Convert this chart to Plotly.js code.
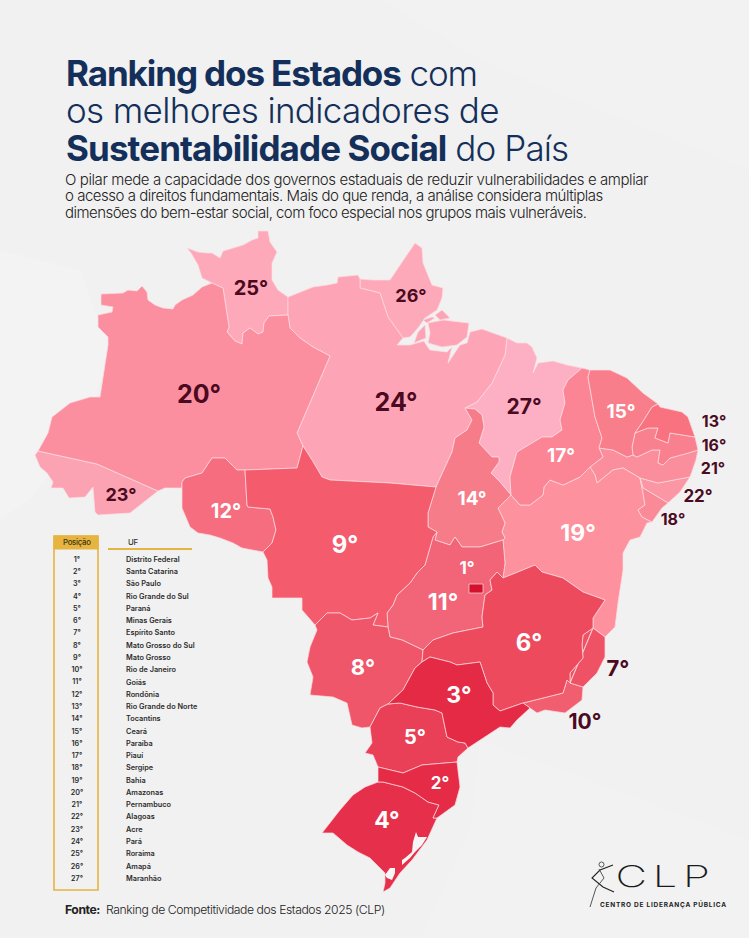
<!DOCTYPE html>
<html lang="pt-BR"><head><meta charset="utf-8">
<script src="https://cdn.plot.ly/plotly-3.0.1.min.js"></script>
<style>html,body{margin:0;padding:0;background:#f1f1f1}#c{width:749px;height:938px}
.annotation-text{letter-spacing:-0.035em}
.annotation[data-index="0"] .annotation-text{letter-spacing:-1.1px}
.annotation[data-index="1"] .annotation-text{letter-spacing:-0.65px}
.annotation[data-index="2"] .annotation-text{letter-spacing:-0.9px}
.annotation[data-index="3"] .annotation-text{letter-spacing:-0.41px}
.annotation[data-index="4"] .annotation-text{letter-spacing:-0.475px}
.annotation[data-index="5"] .annotation-text{letter-spacing:-0.54px}
.annotation[data-index="9"] .annotation-text{letter-spacing:4px;transform:scaleX(1.45);transform-origin:10px 876px}
.annotation[data-index="10"] .annotation-text{letter-spacing:0.75px}</style></head><body><div id="c"></div>
<script>
// ---- DATA ----
const stateCodes=["DF","SC","SP","RS","PR","MG","ES","MS","MT","RJ","GO","RO","RN","TO","CE","PB","PI","SE","BA","AM","PE","AL","AC","PA","RR","AP","MA"];
const ranks=[1,2,3,4,5,6,7,8,9,10,11,12,13,14,15,16,17,18,19,20,21,22,23,24,25,26,27];
const ufNames=["Distrito Federal","Santa Catarina","São Paulo","Rio Grande do Sul","Paraná","Minas Gerais","Espírito Santo","Mato Grosso do Sul","Mato Grosso","Rio de Janeiro","Goiás","Rondônia","Rio Grande do Norte","Tocantins","Ceará","Paraíba","Piauí","Sergipe","Bahia","Amazonas","Pernambuco","Alagoas","Acre","Pará","Roraima","Amapá","Maranhão"];
const fillColors=["#d3112f","#e52b45","#e42a45","#e6304b","#e94058","#ed4a5e","#ef5265","#f0566a","#f45b6c","#f05e70","#f26477","#f56d7e","#f8727f","#f67c8a","#f97e8c","#f9808e","#fb8595","#fb8a98","#fd919e","#fb8f9f","#fb8e9c","#fb96a4","#fca3b3","#fda5b6","#fda9ba","#fda9ba","#fdb0c3"];
const labelX=[467,440,459,387,415,529,618,363,345,585,443,226,714,472,621,714,561,673,578,199,713,698,121,396,251,411,524];
const labelY=[570,785,697,822,739,645,670,669,547,724,604,513,423,500,413,447,457,521,535,397,470,498,496,405,290,297,409];
const labelDark=[0,0,0,0,0,0,1,0,0,1,0,0,1,0,0,1,0,1,0,1,1,1,1,1,1,1,1];
const labelSize=[17,17,23,23,20,24,22,22,24,21,23,20,16,19,19,16,19,16,23,25,16,17,18,25,20,18,21];

// ---- GEOGRAPHY: shared state borders, in picture units ----
const N_RR=[[212,283],[202,278],[198,265],[191,253],[187,248],[198,252],[207,253],[212,253],[220,258],[223,251],[233,248],[243,245],[252,240],[258,238],[258,231],[268,231],[270,242],[277,252],[272,263],[272,280],[278,290],[288,297]];
const RR_PA=[[288,297],[288,315]];
const RR_AM=[[288,315],[269,316],[264,323],[263,332],[258,334],[250,328],[243,333],[242,344],[235,341],[227,332],[229,327],[225,303],[223,288],[212,283]];
const AM_N=[[212,283],[202,287],[193,295],[182,300],[175,305],[173,309],[163,308],[155,305],[148,300],[147,292],[142,286],[137,291],[128,290],[123,293],[101,294],[101,305],[113,307],[112,312],[98,315],[98,327],[108,337],[108,345],[100,397],[90,397],[70,403],[57,413],[52,417],[48,433],[38,451]];
const AM_AC=[[38,451],[97,464],[158,491]];
const AM_S=[[158,491],[165,488],[178,488],[182,488]];
const AM_RO=[[182,488],[182,482],[185,478],[202,473],[212,458],[225,458],[237,470],[245,470]];
const AM_MT=[[245,470],[297,468],[303,446]];
const AM_PA=[[303,446],[297,433],[330,356],[313,347],[300,338],[290,328],[288,315]];
const AC_OUT=[[38,451],[35,455],[40,467],[47,473],[53,482],[51,488],[63,488],[69,498],[85,497],[93,487],[95,512],[98,515],[130,513],[137,507],[158,491]];
const RO_MT=[[245,470],[247,505],[248,507],[270,509],[273,517],[276,530],[272,543],[263,552]];
const RO_OUT=[[182,488],[182,508],[190,527],[198,533],[210,535],[220,538],[233,543],[242,548],[253,550],[263,552]];
const MT_PA=[[303,446],[312,460],[322,477],[330,480],[390,483],[436,487]];
const MT_TO=[[436,487],[428,513],[428,527],[437,532]];
const MT_GO=[[437,532],[433,537],[425,565],[417,573],[410,583],[397,595],[393,605],[387,613],[388,627]];
const MT_MS=[[388,627],[373,625],[378,613],[370,618],[352,620],[340,613],[327,613],[315,625]];
const MT_OUT=[[315,625],[302,610],[302,598],[272,598],[272,587],[268,578],[267,560],[263,552]];
const PA_N=[[288,297],[300,292],[313,287],[327,285],[337,283],[338,277],[358,275],[360,279]];
const PA_AP=[[360,279],[360,288],[380,293],[388,317],[403,338]];
const PA_COAST=[[403,338],[397,345],[410,345],[424,341],[427,346],[430,350],[447,352],[452,347],[448,363],[460,345],[467,343],[470,332],[482,329],[493,333],[507,338]];
const PA_MA=[[507,338],[505,355],[492,383],[477,402],[465,408]];
const PA_TO=[[465,408],[472,420],[467,430],[455,438],[452,452],[436,487]];
const AP_OUT=[[360,279],[373,280],[390,280],[397,270],[415,243],[422,248],[423,263],[432,285],[443,288],[442,298],[437,310],[425,318],[418,328],[410,337],[403,338]];
const MA_COAST=[[507,338],[517,343],[527,343],[532,347],[537,358],[533,373],[538,363],[545,362],[553,361],[567,365],[582,368]];
const MA_PI=[[582,368],[568,380],[563,390],[565,403],[560,420],[562,430],[552,437],[542,437],[517,452],[510,477],[511,495]];
const TO_MA=[[465,408],[475,409],[482,415],[484,427],[479,443],[492,457],[499,457],[499,462],[491,473],[500,482],[511,495]];
const TO_BA=[[511,495],[498,508],[505,523],[502,532],[505,538],[503,540]];
const TO_GO=[[503,540],[480,547],[462,547],[455,537],[450,545],[435,540],[437,532]];
const PI_N=[[582,368],[590,370]];
const PI_CE=[[590,370],[588,377],[595,417],[602,438],[599,448]];
const PI_PE=[[599,448],[603,457],[590,467]];
const PI_BA=[[590,467],[580,477],[563,485],[550,480],[544,487],[543,495],[530,505],[520,505],[511,495]];
const CE_COAST=[[590,370],[610,370],[627,378],[643,393],[658,404]];
const CE_RN=[[658,404],[652,407],[642,423],[635,433]];
const CE_PB=[[635,433],[632,447],[633,455]];
const CE_PE=[[633,455],[627,457],[613,450],[599,448]];
const RN_COAST=[[658,404],[660,407],[682,412],[688,417],[695,437]];
const RN_PB=[[695,437],[670,433],[668,443],[655,438],[658,428],[648,428],[635,433]];
const PB_COAST=[[695,437],[698,450]];
const PB_PE=[[698,450],[685,454],[670,458],[663,465],[658,463],[660,450],[652,450],[637,457],[633,455]];
const PE_COAST=[[698,450],[696,460],[690,477]];
const PE_AL=[[690,477],[673,480],[658,483],[640,478]];
const PE_BA=[[640,478],[632,473],[623,468],[613,470],[597,483],[595,475],[590,467]];
const AL_COAST=[[690,477],[680,492],[668,503]];
const AL_SE=[[668,503],[655,495],[643,488],[640,478]];
const SE_COAST=[[668,503],[662,508],[652,522]];
const SE_BA=[[652,522],[642,517],[638,510],[645,505],[643,493],[640,478]];
const BA_COAST=[[652,522],[647,523],[640,537],[630,540],[623,553],[623,570],[618,603],[615,627],[605,637]];
const BA_ES=[[605,637],[593,628]];
const BA_MG=[[593,628],[593,618],[605,600],[583,592],[563,578],[542,572],[535,565],[518,572],[503,578]];
const BA_GO=[[503,578],[505,563],[503,540]];
const MG_GO=[[503,578],[497,572],[490,580],[492,590],[485,595],[482,617],[483,627],[453,633],[433,640],[423,650]];
const MG_MS=[[423,650],[422,662]];
const MG_SP=[[422,662],[430,657],[450,662],[457,665],[480,662],[487,683],[493,693],[493,705],[500,711],[523,703]];
const MG_RJ=[[523,703],[563,693],[567,680],[570,683]];
const MG_ES=[[570,683],[570,673],[583,658],[582,645],[583,635],[593,628]];
const ES_COAST=[[605,637],[605,657],[597,673],[583,687]];
const ES_RJ=[[583,687],[570,683]];
const RJ_COAST=[[583,687],[582,700],[565,713],[545,710],[537,713],[530,708]];
const RJ_SP=[[530,708],[523,703]];
const SP_MS=[[388,704],[403,690],[415,668],[422,662]];
const SP_PR=[[388,704],[400,703],[417,707],[435,710],[442,713],[447,737],[458,742],[465,743],[468,748]];
const SP_COAST=[[468,748],[483,738],[500,727],[510,728],[517,720],[530,708]];
const GO_MS=[[388,627],[390,637],[402,640],[423,650]];
const MS_PR=[[388,704],[380,708],[370,727]];
const MS_OUT=[[315,625],[317,630],[310,647],[307,662],[313,677],[310,695],[333,697],[347,703],[352,725],[362,728],[370,727]];
const PR_COAST=[[468,748],[458,757],[457,762]];
const PR_SC=[[378,767],[403,773],[422,765],[457,762]];
const PR_OUT=[[370,727],[372,743],[365,753],[373,755],[378,767]];
const SC_COAST=[[457,762],[460,787],[455,805],[437,818]];
const SC_RS=[[378,782],[383,782],[403,787],[415,793],[428,802],[439,805],[433,818],[437,818]];
const RS_COAST=[[437,818],[427,840],[412,860],[400,873],[390,888],[383,892],[385,883],[385,873],[370,858],[358,852],[347,845],[333,833],[322,833],[340,810],[353,795],[365,787],[378,782]];
const DF_BOX=[[469,584],[483,584],[483,593],[469,593]];
const MARAJO=[[428,323],[443,320],[469,323],[467,337],[457,345],[442,347],[428,343],[430,333]];
const ISLE_A=[[423,320],[432,317],[435,318],[427,323]];
const ISLE_B=[[435,315],[442,310],[450,318],[440,320]];
const ISLE_C=[[418,332],[425,325],[426,338],[414,343]];
const LAGOA_PATOS=[[416,832],[418,837],[427,837],[422,845],[415,852],[410,858],[402,865],[402,860],[405,858],[412,852],[413,842]];
const LAGOA_MIRIM=[[390,868],[395,868],[395,873],[392,880],[387,878],[385,875]];

const r=a=>a.slice().reverse();
const rings={
 DF:[DF_BOX],
 RR:[[...N_RR,...RR_PA,...RR_AM]],
 AM:[[...AM_N,...AM_AC,...AM_S,...AM_RO,...AM_MT,...AM_PA,...RR_AM]],
 AC:[[...AM_AC,...r(AC_OUT)]],
 RO:[[...AM_RO,...RO_MT,...r(RO_OUT)]],
 MT:[[...MT_PA,...MT_TO,...MT_GO,...MT_MS,...MT_OUT,...r(RO_MT),...AM_MT]],
 PA:[[...PA_N,...PA_AP,...PA_COAST,...PA_MA,...PA_TO,...r(MT_PA),...AM_PA,...r(RR_PA)],MARAJO,ISLE_A,ISLE_B,ISLE_C],
 AP:[[...AP_OUT,...r(PA_AP)]],
 MA:[[...MA_COAST,...MA_PI,...r(TO_MA),...r(PA_MA)]],
 TO:[[...TO_MA,...TO_BA,...TO_GO,...r(MT_TO),...r(PA_TO)]],
 PI:[[...PI_N,...PI_CE,...PI_PE,...PI_BA,...r(MA_PI)]],
 CE:[[...CE_COAST,...CE_RN,...CE_PB,...CE_PE,...r(PI_CE)]],
 RN:[[...RN_COAST,...RN_PB,...r(CE_RN)]],
 PB:[[...PB_COAST,...PB_PE,...r(CE_PB),...r(RN_PB)]],
 PE:[[...PE_COAST,...PE_AL,...PE_BA,...r(PI_PE),...r(CE_PE),...r(PB_PE)]],
 AL:[[...AL_COAST,...AL_SE,...r(PE_AL)]],
 SE:[[...SE_COAST,...SE_BA,...r(AL_SE)]],
 BA:[[...BA_COAST,...BA_ES,...BA_MG,...BA_GO,...r(TO_BA),...r(PI_BA),...r(PE_BA),...r(SE_BA)]],
 MG:[[...MG_GO,...MG_MS,...MG_SP,...MG_RJ,...MG_ES,...BA_MG]],
 ES:[[...r(BA_ES),...ES_COAST,...ES_RJ,...r(MG_ES)]],
 RJ:[[...r(ES_RJ),...RJ_COAST,...RJ_SP,...MG_RJ]],
 SP:[[...SP_MS,...MG_SP,...r(RJ_SP),...r(SP_COAST),...r(SP_PR)]],
 GO:[[...r(TO_GO),...r(BA_GO),...MG_GO,...r(GO_MS),...r(MT_GO)]],
 MS:[[...GO_MS,...MG_MS,...r(SP_MS),...MS_PR,...r(MS_OUT),...r(MT_MS)]],
 PR:[[...SP_PR,...PR_COAST,...r(PR_SC),...r(PR_OUT),...r(MS_PR)]],
 SC:[[...PR_SC,...SC_COAST,...r(SC_RS)]],
 RS:[[...SC_RS,...RS_COAST]]
};
function ringTrace(list,color,line,name){
  const x=[],y=[];
  list.forEach((ring,i)=>{ if(i){x.push(null);y.push(null);} ring.forEach(p=>{x.push(p[0]);y.push(p[1]);}); x.push(ring[0][0]); y.push(ring[0][1]); });
  return {type:'scatter',mode:'lines',x,y,fill:'toself',fillcolor:color,line:{color:line,width:line==='rgba(0,0,0,0)'?0:0.7},hoverinfo:'skip',showlegend:false,name};
}
const traces=[];
for(let i=stateCodes.length-1;i>=0;i--) traces.push(ringTrace(rings[stateCodes[i]],fillColors[i],'#fcdde1',stateCodes[i]));
const PAPER='#f1f1f1';
traces.push(ringTrace([LAGOA_PATOS,LAGOA_MIRIM],'#f6f6f6','rgba(0,0,0,0)','Lagoas'));

const deg=n=>n+'°';
const DARK='#4a0a1f';
traces.push({type:'scatter',mode:'text',x:labelX,y:labelY,text:ranks.map(n=>'<b>'+deg(n)+'</b>'),textposition:'middle center',
  textfont:{family:'Inter',size:labelSize,color:labelDark.map(d=>d?DARK:'#ffffff')},hoverinfo:'skip',showlegend:false});

const rowY=ranks.map((n,i)=>560+i*12.27);
traces.push({type:'scatter',mode:'text',x:ranks.map(()=>77),y:rowY,text:ranks.map(deg),textposition:'middle center',
  textfont:{family:'Inter',size:7.2,color:'#2c2c2c',weight:600},hoverinfo:'skip',showlegend:false});
traces.push({type:'scatter',mode:'text',x:ranks.map(()=>126),y:rowY,text:ufNames,textposition:'middle right',
  textfont:{family:'Inter',size:7.3,color:'#2c2c2c',weight:600},hoverinfo:'skip',showlegend:false});

const NAVY='#14305a';
const ann=(x,y,text,size,color,extra)=>Object.assign({xref:'x',yref:'y',x,y,text,showarrow:false,xanchor:'left',yanchor:'middle',align:'left',
  font:{family:'Inter',size,color,weight:300}},extra||{});
const annotations=[
 ann(64,73,'<b>Ranking dos Estados</b> com',35,NAVY),
 ann(64,110,'os melhores indicadores de',35,NAVY),
 ann(64,148,'<b>Sustentabilidade Social</b> do País',35,NAVY),
 ann(63,179,'O pilar mede a capacidade dos governos estaduais de reduzir vulnerabilidades e ampliar',15,'#222'),
 ann(63,195,'o acesso a direitos fundamentais. Mais do que renda, a análise considera múltiplas',15,'#222'),
 ann(63,212,'dimensões do bem-estar social, com foco especial nos grupos mais vulneráveis.',15,'#222'),
 ann(63,909,'<b>Fonte:</b>  Ranking de Competitividade dos Estados 2025 (CLP)',12.2,'#222'),
 ann(77,542,'Posição',7.8,'#4a3a10',{xanchor:'center',font:{family:'Inter',size:7.8,color:'#3f320e',weight:500}}),
 ann(126,542,'UF',7.8,'#333',{font:{family:'Inter',size:7.8,color:'#333',weight:500}}),
 ann(617,876,'CLP',30,'#1a1a1a',{font:{family:'Inter',size:30,color:'#1a1a1a',weight:200}}),
 ann(650,904,'<b>CENTRO DE LIDERANÇA PÚBLICA</b>',6.5,'#222',{xanchor:'center'})
];
const GOLD='#e6b440';
const shapes=[
 {type:'path',layer:'below',path:'M383,0 L749,0 L749,170 L600,110 L480,60 Z',line:{width:0},fillcolor:'rgba(255,255,255,0.12)'},
 {type:'path',layer:'below',path:'M0,250 L80,270 L110,350 L90,420 L30,500 L0,520 Z',line:{width:0},fillcolor:'rgba(255,255,255,0.14)'},
 {type:'path',layer:'below',path:'M480,740 L749,840 L749,938 L420,938 L470,830 Z',line:{width:0},fillcolor:'rgba(255,255,255,0.1)'},
 {type:'rect',x0:54,x1:98,y0:536,y1:890,line:{color:GOLD,width:1.6},fillcolor:'rgba(0,0,0,0)'},
 {type:'rect',x0:54,x1:98,y0:536,y1:549,line:{color:GOLD,width:1},fillcolor:GOLD},
 {type:'line',x0:108,x1:192,y0:549,y1:549,line:{color:GOLD,width:1.8}},
 {type:'circle',x0:599,x1:604,y0:862,y1:867,line:{color:'#333',width:0.8}},
 {type:'path',path:'M613,865 L600,870 L592,878 L603,887 L614,892',line:{color:'#222',width:1.1}},
 {type:'path',path:'M599,869 L604,878 L596,888 L590,907',line:{color:'#444',width:0.9}}
];
const ax={range:[0,749],visible:false,fixedrange:true};
Plotly.newPlot('c',traces,{width:749,height:938,margin:{l:0,r:0,t:0,b:0},paper_bgcolor:PAPER,plot_bgcolor:PAPER,showlegend:false,
  xaxis:ax,yaxis:{range:[938,0],visible:false,fixedrange:true},annotations,shapes},{staticPlot:true,displayModeBar:false});
</script></body></html>
